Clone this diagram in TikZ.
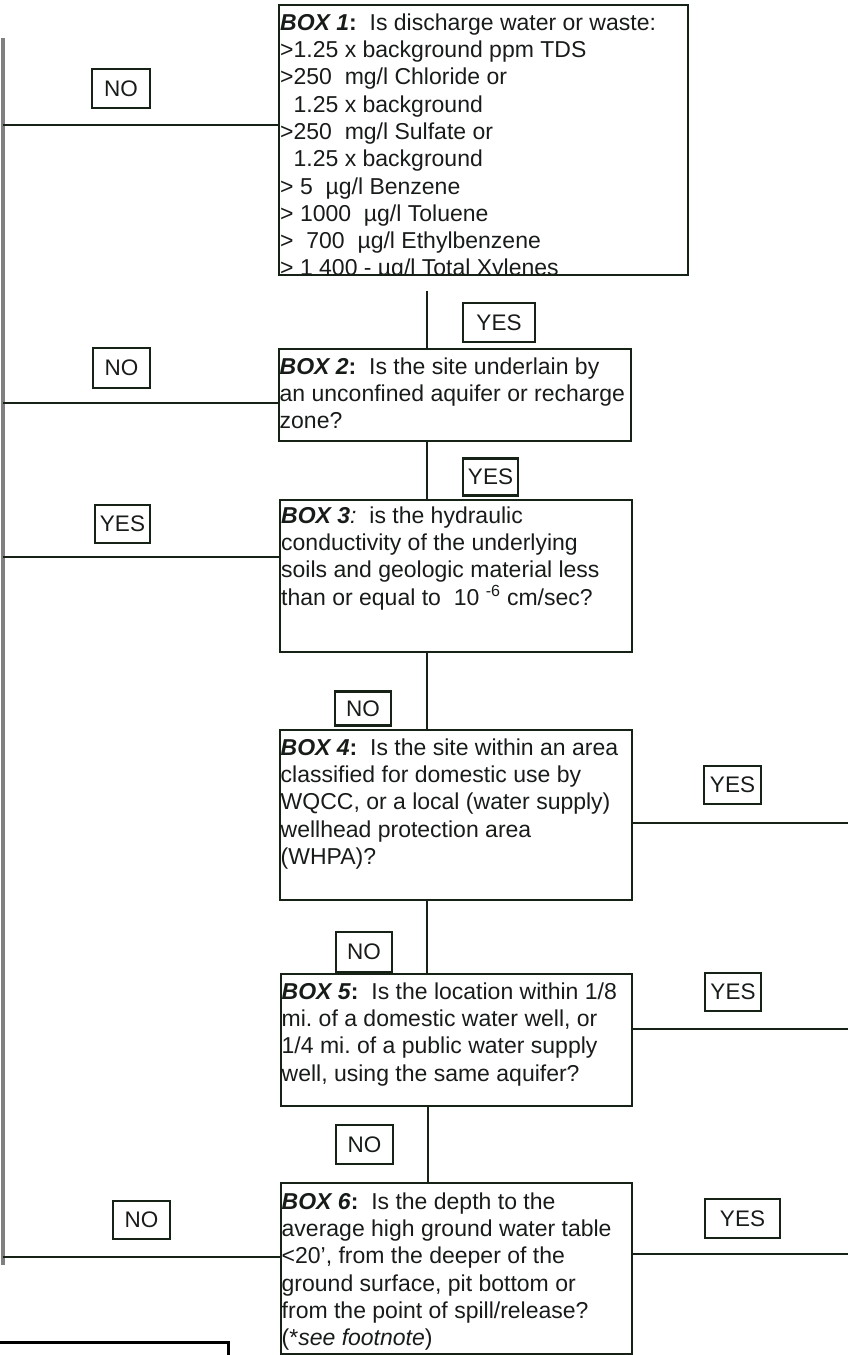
\documentclass[tikz,border=0pt]{standalone}
\usepackage{fontspec}
\setmainfont{Liberation Sans}
\definecolor{ink}{RGB}{22,34,22}
\definecolor{txt}{RGB}{24,28,24}
\definecolor{bar}{RGB}{128,128,128}
\frenchspacing
\begin{document}
\begin{tikzpicture}[x=1pt,y=-1pt,
  qbox/.style={draw=ink, line width=2.4pt, inner sep=0pt, anchor=north west},
  qtext/.style={anchor=north west, inner sep=0pt, align=left, text=txt, font=\fontsize{23}{27.3}\selectfont},
  lbl/.style={draw=ink, line width=2.2pt, inner sep=0pt, text=txt, font=\fontsize{22.5}{27}\selectfont},
  conn/.style={draw=ink, line width=2.2pt},
  sidebar/.style={draw=bar, line width=3.5pt},
  footbox/.style={draw=black, line width=3pt}]
\useasboundingbox (0,0) rectangle (848,1355);

% question boxes
\node[qbox, minimum width=409pt, minimum height=270pt] (b1) at (278,4) {};
\node[qbox, minimum width=352pt, minimum height=92pt]  (b2) at (278,348) {};
\node[qbox, minimum width=352pt, minimum height=152pt] (b3) at (279,499) {};
\node[qbox, minimum width=352pt, minimum height=170pt] (b4) at (279,729) {};
\node[qbox, minimum width=351pt, minimum height=132pt] (b5) at (280,973) {};
\node[qbox, minimum width=351pt, minimum height=171pt] (b6) at (280,1182) {};

% texts
\begin{scope}
\clip ([yshift=1.2pt]b1.north west) rectangle ([yshift=1.2pt]b1.south east);
\node[qtext] (t1) at ([xshift=2pt,yshift=-6pt]b1.north west)
 {\rule{0pt}{20pt}\textbf{\textit{BOX 1}:} \ Is discharge water or waste:\\
  >1.25 x background ppm TDS\\
  >250\ \ mg/l Chloride or\\
  \phantom{>}1.25 x background\\
  >250\ \ mg/l Sulfate or\\
  \phantom{>}1.25 x background\\
  > 5\ \ µg/l Benzene\\
  > 1000\ \ µg/l Toluene\\
  >\ \ 700\ \ µg/l Ethylbenzene\\
  > 1 400 - µg/l Total Xylenes};
\end{scope}
\node[qtext] (t2) at ([xshift=1.5pt,yshift=-6pt]b2.north west)
 {\rule{0pt}{20pt}\textbf{\textit{BOX 2}:} \ Is the site underlain by\\
  an unconfined aquifer or recharge\\
  zone?};
\node[qtext] (t3) at ([xshift=2pt,yshift=-4pt]b3.north west)
 {\rule{0pt}{20pt}\textbf{\textit{BOX 3}}\textit{:} \ is the hydraulic\\
  conductivity of the underlying\\
  soils and geologic material less\\
  than or equal to \ 10 \textsuperscript{-6} cm/sec?};
\node[qtext] (t4) at ([xshift=1.5pt,yshift=-6pt]b4.north west)
 {\rule{0pt}{20pt}\textbf{\textit{BOX 4}:} \ Is the site within an area\\
  classified for domestic use by\\
  WQCC, or a local (water supply)\\
  wellhead protection area\\
  (WHPA)?};
\node[qtext] (t5) at ([xshift=1.5pt,yshift=-6pt]b5.north west)
 {\rule{0pt}{20pt}\textbf{\textit{BOX 5}:} \ Is the location within 1/8\\
  mi. of a domestic water well, or\\
  1/4 mi. of a public water supply\\
  well, using the same aquifer?};
\node[qtext] (t6) at ([xshift=1.5pt,yshift=-7pt]b6.north west)
 {\rule{0pt}{20pt}\textbf{\textit{BOX 6}:} \ Is the depth to the\\
  average high ground water table\\
  <20’, from the deeper of the\\
  ground surface, pit bottom or\\
  from the point of spill/release?\\
  (*\textit{see footnote})};

% labels
\node[lbl, minimum width=58pt, minimum height=39pt] (n1) at (121,88.5) {NO};
\node[lbl, minimum width=72pt, minimum height=39pt] (y1) at (499,322.5) {YES};
\node[lbl, minimum width=57pt, minimum height=40pt] (n2) at (121.5,368) {NO};
\node[lbl, minimum width=55pt, minimum height=37pt] (y2) at (490.5,477) {YES};
\node[lbl, minimum width=55pt, minimum height=38pt] (y3) at (122.5,524) {YES};
\node[lbl, minimum width=56pt, minimum height=34pt] (n3) at (363,708.5) {NO};
\node[lbl, minimum width=57pt, minimum height=38pt] (y4) at (732.5,785) {YES};
\node[lbl, minimum width=56pt, minimum height=40pt] (n4) at (364,952) {NO};
\node[lbl, minimum width=56pt, minimum height=38pt] (y5) at (733,992) {YES};
\node[lbl, minimum width=57pt, minimum height=39pt] (n5) at (364.5,1144.5) {NO};
\node[lbl, minimum width=57pt, minimum height=38pt] (n6) at (141.5,1220) {NO};
\node[lbl, minimum width=75pt, minimum height=39pt] (y6) at (742.5,1218.5) {YES};

% left side bar
\coordinate (bartop) at (3,38);
\coordinate (barbot) at (3,1265);
\draw[sidebar] (bartop) -- (barbot);

% left connectors
\coordinate (j1) at (3,125);
\coordinate (j2) at (3,403);
\coordinate (j3) at (3,557);
\coordinate (j6) at (3,1257);
\draw[conn] (j1) -- (j1 -| b1.west);
\draw[conn] (j2) -- (j2 -| b2.west);
\draw[conn] (j3) -- (j3 -| b3.west);
\draw[conn] (j6) -- (j6 -| b6.west);

% right connectors
\coordinate (e4) at (848,823);
\coordinate (e5) at (848,1029);
\coordinate (e6) at (848,1254);
\draw[conn] (b4.east |- e4) -- (e4);
\draw[conn] (b5.east |- e5) -- (e5);
\draw[conn] (b6.east |- e6) -- (e6);

% vertical connectors
\coordinate (s1) at (427,291);
\coordinate (vx) at (427,0);
\draw[conn] (s1) -- (s1 |- b2.north);
\draw[conn] (vx |- b2.south) -- (vx |- b3.north);
\draw[conn] (vx |- b3.south) -- (vx |- b4.north);
\draw[conn] (vx |- b4.south) -- (vx |- b5.north);
\draw[conn] ([xshift=1pt]vx |- b5.south) -- ([xshift=1pt]vx |- b6.north);

% partial footnote box at bottom left
\coordinate (f1) at (0,1342);
\coordinate (f2) at (228,1342);
\coordinate (f3) at (228,1357);
\draw[footbox] (f1) -- (f2) -- (f3);
\end{tikzpicture}
\end{document}
